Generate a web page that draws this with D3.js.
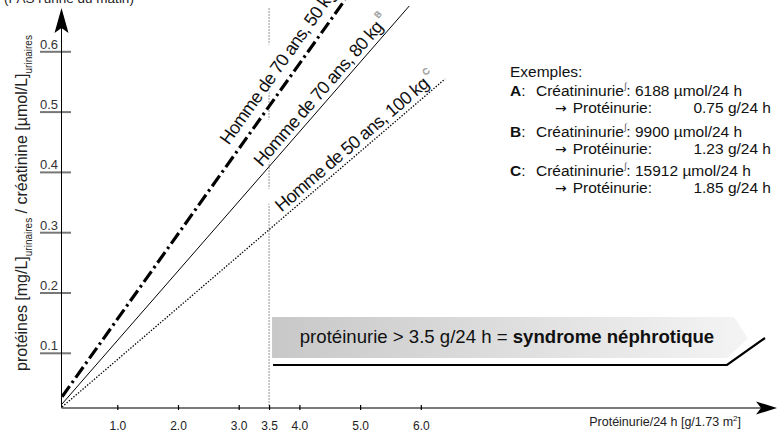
<!DOCTYPE html>
<html>
<head>
<meta charset="utf-8">
<script src="https://cdn.jsdelivr.net/npm/d3@7"></script>
<style>
  html, body { margin: 0; padding: 0; background: #fff; }
  svg { display: block; font-family: "Liberation Sans", Arial, sans-serif; }
</style>
</head>
<body>
<svg id="chart" width="777" height="433"></svg>
<script>
// ---- data ----
const xTicks = [1.0, 2.0, 3.0, 3.5, 4.0, 5.0, 6.0];
const yTicks = [0.1, 0.2, 0.3, 0.4, 0.5, 0.6];
const lineKeys = ["A", "B", "C"];
const lineLabels = ["Homme de 70 ans, 50 kg", "Homme de 70 ans, 80 kg", "Homme de 50 ans, 100 kg"];
// each line: [start, end] in data units (proteinuria g/24h, ratio)
const lineX = [[0.09, 4.75], [0.09, 5.81], [0.09, 6.40]];
const lineY = [[0.028, 0.686], [0.016, 0.676], [0.011, 0.555]];
const creatininurie = ["6188", "9900", "15912"];
const proteinurie = ["0.75", "1.23", "1.85"];
const seuil = 3.5;

// ---- layout ----
const ox = 61.5, oy = 408;           // where the two axes cross
const dashStyles = ["13,4,2.5,4", null, "1.4,1.6"];
const lineWidths = [3.2, 1, 1.3];
const labelStart = [2.97, 3.44, 3.76]; // data x where each label begins
const labelOffset = [10, 5, 5];

const svg = d3.select("#chart");

const x = d3.scaleLinear().domain([0, 6]).range([56.6, 420.8]);
const y = d3.scaleLinear().domain([0, 0.6]).range([413.6, 51.8]);

// top-left note, cut by the frame
svg.append("text")
    .attr("x", 4).attr("y", 3)
    .attr("font-size", 13.5).attr("fill", "#222")
    .text("(PAS l'urine du matin)");

// vertical threshold at 3.5 g/24 h
svg.append("line")
    .attr("x1", x(seuil)).attr("x2", x(seuil))
    .attr("y1", 8).attr("y2", oy)
    .attr("stroke", "#a8a8a8").attr("stroke-width", 1.2)
    .attr("stroke-dasharray", "2,1");

// y ticks + labels
const yt = svg.append("g");
yt.selectAll("line").data(yTicks).enter().append("line")
    .attr("x1", 40).attr("x2", 71)
    .attr("y1", d => y(d)).attr("y2", d => y(d))
    .attr("stroke", "#777").attr("stroke-width", 2);
yt.selectAll("text").data(yTicks).enter().append("text")
    .attr("x", 40).attr("y", d => y(d) - 3)
    .attr("font-size", 13).attr("fill", "#333")
    .text(d => d.toFixed(1));

// y axis with arrow
svg.append("line")
    .attr("x1", ox).attr("x2", ox).attr("y1", oy).attr("y2", 28)
    .attr("stroke", "#000").attr("stroke-width", 1);
svg.append("path")
    .attr("d", `M${ox},8 L${ox + 7},33 L${ox},28 L${ox - 7},33 Z`)
    .attr("fill", "#000");

// x axis with arrow
svg.append("line")
    .attr("x1", ox).attr("x2", 762).attr("y1", oy).attr("y2", oy)
    .attr("stroke", "#7a7a7a").attr("stroke-width", 2);
svg.append("path")
    .attr("d", `M777,${oy} L756,${oy - 6.5} L761,${oy} L756,${oy + 6.5} Z`)
    .attr("fill", "#000");

const xAxis = d3.axisBottom(x).tickValues(xTicks).tickSize(0).tickFormat(d3.format(".1f"));
const xg = svg.append("g").attr("transform", `translate(0,${oy})`).call(xAxis);
xg.select(".domain").remove();
xg.selectAll(".tick text")
    .attr("y", 22).attr("dy", 0)
    .attr("font-size", 12).attr("fill", "#222")
    .attr("font-family", "Liberation Sans, Arial, sans-serif");
xg.selectAll(".tick").append("line")
    .attr("y1", -3).attr("y2", 2)
    .attr("stroke", "#000").attr("stroke-width", 1.2);

svg.append("text")
    .attr("x", 741).attr("y", 426)
    .attr("text-anchor", "end")
    .attr("font-size", 12.5).attr("fill", "#222")
    .call(t => {
        t.append("tspan").text("Protéinurie/24 h [g/1.73 m");
        t.append("tspan").attr("font-size", 8).attr("dy", -5).text("2");
        t.append("tspan").attr("dy", 5).text("]");
    });

// y axis title
svg.append("text")
    .attr("transform", "translate(27,203) rotate(-90)")
    .attr("text-anchor", "middle")
    .attr("font-size", 16).attr("fill", "#222")
    .call(t => {
        t.append("tspan").text("protéines [mg/L]");
        t.append("tspan").attr("font-size", 10).attr("dy", 5).text("urinaires");
        t.append("tspan").attr("dy", -5).text(" / créatinine [µmol/L]");
        t.append("tspan").attr("font-size", 10).attr("dy", 5).text("urinaires");
    });

// line labels (white boxes hide the threshold line behind them)
const lines = lineKeys.map((k, i) => ({
    key: k,
    label: lineLabels[i],
    pts: [[lineX[i][0], lineY[i][0]], [lineX[i][1], lineY[i][1]]]
}));

lines.forEach((d, i) => {
    const [a, b] = d.pts;
    const px1 = x(a[0]), py1 = y(a[1]), px2 = x(b[0]), py2 = y(b[1]);
    const ang = Math.atan2(py2 - py1, px2 - px1) * 180 / Math.PI;
    const t = (labelStart[i] - a[0]) / (b[0] - a[0]);
    const sx = x(labelStart[i]), sy = y(a[1] + t * (b[1] - a[1]));
    const g = svg.append("g").attr("transform", `translate(${sx},${sy}) rotate(${ang})`);
    const rect = g.append("rect").attr("fill", "#fff");
    const txt = g.append("text")
        .attr("x", 0).attr("y", -labelOffset[i])
        .attr("font-size", 18).attr("letter-spacing", -0.7).attr("fill", "#111");
    txt.append("tspan").text(d.label);
    txt.append("tspan").attr("font-size", 9).attr("dy", -10).attr("dx", 3)
        .attr("fill", "#fff").attr("stroke", "#888").attr("stroke-width", 0.5).text(d.key);
    const len = txt.node().getComputedTextLength();
    rect.attr("x", -4).attr("y", -labelOffset[i] - 26).attr("width", len + 10).attr("height", 28);
});

// the three lines
const lineGen = d3.line().x(p => x(p[0])).y(p => y(p[1]));
svg.append("g").selectAll("path").data(lines).enter().append("path")
    .attr("d", d => lineGen(d.pts))
    .attr("fill", "none")
    .attr("stroke", "#000")
    .attr("stroke-width", (d, i) => lineWidths[i])
    .attr("stroke-dasharray", (d, i) => dashStyles[i]);

// nephrotic band
const defs = svg.append("defs");
const grad = defs.append("linearGradient").attr("id", "bandGrad")
    .attr("x1", "0%").attr("x2", "100%").attr("y1", "0%").attr("y2", "0%");
grad.append("stop").attr("offset", "0%").attr("stop-color", "#c8c8c8");
grad.append("stop").attr("offset", "100%").attr("stop-color", "#f4f4f4");

const bL = x(seuil) + 3, bR = 734, bT = 317, bB = 358;
svg.append("path")
    .attr("d", `M${bL},${bT} H${bR} L${bR + 14},${(bT + bB) / 2 + 1} L${bR - 7},${bB} H${bL} Z`)
    .attr("fill", "url(#bandGrad)");
svg.append("path")
    .attr("d", `M${bL + 1},365 H727 L765,338`)
    .attr("fill", "none").attr("stroke", "#000").attr("stroke-width", 2.2);
svg.append("text")
    .attr("x", 507).attr("y", 343)
    .attr("text-anchor", "middle")
    .attr("font-size", 18.6).attr("fill", "#111")
    .call(t => {
        t.append("tspan").text(`protéinurie > ${seuil} g/24 h = `);
        t.append("tspan").attr("font-weight", "bold").text("syndrome néphrotique");
    });

// examples block
const ex = svg.append("g").attr("font-size", 15.5).attr("fill", "#111");
ex.append("text").attr("x", 510).attr("y", 77).text("Exemples:");
const rowY = [96, 137, 176];
lineKeys.forEach((k, i) => {
    const t = ex.append("text").attr("x", 510).attr("y", rowY[i]);
    t.append("tspan").attr("font-weight", "bold").text(k);
    t.append("tspan").text(":");
    t.append("tspan").attr("x", 536).text("Créatininurie");
    t.append("tspan").attr("font-size", 9).attr("dy", -7).attr("fill", "#555").text("∫");
    t.append("tspan").attr("dy", 7).text(`: ${creatininurie[i]} µmol/24 h`);
    const r = ex.append("text").attr("x", 555).attr("y", rowY[i] + 17);
    r.append("tspan").attr("font-family", "DejaVu Sans").attr("font-size", 14).text("→");
    r.append("tspan").attr("dx", 6).text("Protéinurie:");
    ex.append("text").attr("x", 771).attr("y", rowY[i] + 17)
        .attr("text-anchor", "end")
        .text(`${proteinurie[i]} g/24 h`);
});
</script>
</body>
</html>
